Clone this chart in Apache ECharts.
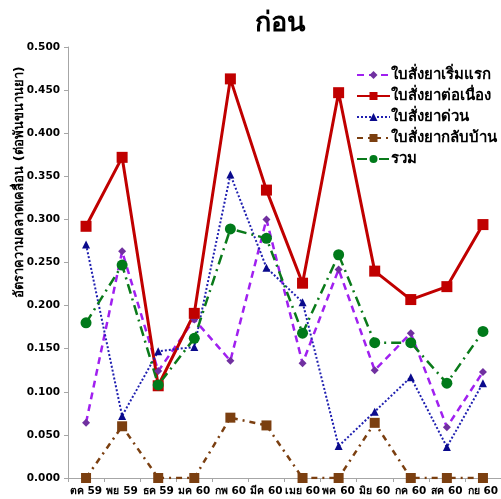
<!DOCTYPE html>
<html><head><meta charset="utf-8">
<script src="https://cdn.jsdelivr.net/npm/echarts@6/dist/echarts.min.js"></script>
<style>html,body{margin:0;padding:0;background:#fff}#c{width:501px;height:499px}</style>
</head><body><div id="c"></div>
<script>
var categories = ['ตค 59','พย 59','ธค 59','มค 60','กพ 60','มีค 60','เมย 60','พค 60','มิย 60','กค 60','สค 60','กย 60'];
var seriesNames = ['ใบสั่งยาเริ่มแรก','ใบสั่งยาต่อเนื่อง','ใบสั่งยาด่วน','ใบสั่งยากลับบ้าน','รวม'];
var initial   = [0.064,0.263,0.124,0.184,0.136,0.300,0.133,0.242,0.125,0.168,0.059,0.123];
var continuing= [0.292,0.372,0.107,0.191,0.463,0.334,0.226,0.447,0.240,0.207,0.222,0.294];
var urgent    = [0.271,0.072,0.147,0.152,0.352,0.244,0.204,0.037,0.077,0.117,0.036,0.110];
var discharge = [0.000,0.060,0.000,0.000,0.070,0.061,0.000,0.000,0.064,0.000,0.000,0.000];
var total     = [0.180,0.247,0.108,0.162,0.289,0.278,0.168,0.259,0.157,0.157,0.110,0.170];
var title = 'ก่อน';
var yName = 'อัตราความคลาดเคลื่อน (ต่อพันขนานยา)';
var FONT = 'Tahoma, "DejaVu Sans", "Noto Sans", sans-serif';

var chart = echarts.init(document.getElementById('c'));
function mk(name, data, color, symColor, symbol, size, width, dash) {
  return {name:name, type:'line', data:data, symbol:symbol, symbolSize:size,
    lineStyle:{color:color, width:width, type:dash},
    itemStyle:{color:symColor, borderColor:symColor, borderWidth:0},
    emphasis:{disabled:true}, animation:false};
}
chart.setOption({
  backgroundColor:'#fff',
  animation:false,
  title:{text:title, left:250, top:5, textStyle:{fontFamily:FONT, fontSize:27, fontWeight:'bold', color:'#000'}},
  grid:{left:68, top:47, width:436, bottom:21, containLabel:false},
  legend:{orient:'vertical', left:351, top:62, itemWidth:33, itemHeight:10, itemGap:5,
    textStyle:{fontFamily:FONT, fontSize:15, fontWeight:'bold', color:'#000', padding:[0,0,0,-4], lineHeight:16},
    data:seriesNames},
  graphic:[{type:'text', x:20, y:182, rotation:Math.PI/2,
    style:{text:yName, font:'bold 13px '+FONT, fill:'#000', textAlign:'center', textVerticalAlign:'middle'}}],
  xAxis:{type:'category', data:categories, boundaryGap:true,
    axisLine:{lineStyle:{color:'#A6A6A6'}},
    axisTick:{show:true, length:4, lineStyle:{color:'#A6A6A6'}},
    axisLabel:{fontFamily:FONT, fontSize:10.5, fontWeight:'bold', color:'#000', margin:8, interval:0}},
  yAxis:{type:'value', min:0, max:0.5, interval:0.05,
    axisLine:{show:true, lineStyle:{color:'#A6A6A6'}},
    axisTick:{show:true, length:4, lineStyle:{color:'#A6A6A6'}},
    splitLine:{show:false},
    axisLabel:{fontFamily:FONT, fontSize:10.5, fontWeight:'bold', color:'#000', margin:8,
      formatter:function(v){return v.toFixed(3);}}},
  series:[
    mk(seriesNames[0], initial, '#A020F0', '#7030A0', 'diamond', 8, 2.5, [7,5]),
    mk(seriesNames[1], continuing, '#C00000', '#C00000', 'rect', 11, 3, 'solid'),
    mk(seriesNames[2], urgent, '#1F1FB0', '#0A0A8C', 'triangle', 8, 2, [2,2]),
    mk(seriesNames[3], discharge, '#7B3F10', '#7B3F10', 'rect', 10, 2.5, [6,5,2,5]),
    mk(seriesNames[4], total, '#0A7A1A', '#007A1A', 'circle', 11, 2.5, [10,5,2,5])
  ]
});
</script></body></html>
